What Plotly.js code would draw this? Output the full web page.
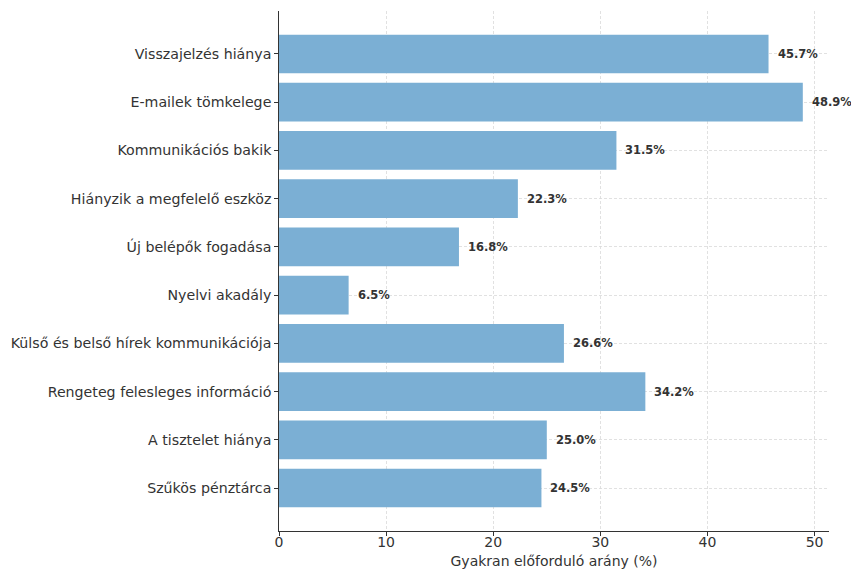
<!DOCTYPE html>
<html>
<head>
<meta charset="utf-8">
<script src="https://cdn.plot.ly/plotly-3.0.1.min.js"></script>
<style>
  html, body { margin: 0; padding: 0; background: #fff; }
  #chart { width: 851px; height: 572px; }
</style>
</head>
<body>
<div id="chart"></div>
<script>
// Problem categories, top to bottom
const categories = [
  "Visszajelzés hiánya",
  "E-mailek tömkelege",
  "Kommunikációs bakik",
  "Hiányzik a megfelelő eszköz",
  "Új belépők fogadása",
  "Nyelvi akadály",
  "Külső és belső hírek kommunikációja",
  "Rengeteg felesleges információ",
  "A tisztelet hiánya",
  "Szűkös pénztárca"
];

// Share of respondents reporting each problem (%)
const shares = [45.7, 48.9, 31.5, 22.3, 16.8, 6.5, 26.6, 34.2, 25.0, 24.5];

const xTickValues = [0, 10, 20, 30, 40, 50];
const xTitle = "Gyakran előforduló arány (%)";

const FONT = "DejaVu Sans, Verdana, sans-serif";
const INK = "#333333";
const GRID = "#dadada";

const trace = {
  type: "bar",
  orientation: "h",
  y: categories,
  x: shares,
  width: 0.8,
  marker: { color: "#7bafd4", line: { width: 0 } },
  hoverinfo: "skip"
};

// Value labels placed just past the end of each bar
const labels = shares.map((v, i) => ({
  x: v,
  y: categories[i],
  xref: "x",
  yref: "y",
  text: v.toFixed(1) + "%",
  showarrow: false,
  xanchor: "left",
  yanchor: "middle",
  xshift: 7,
  font: { family: "DejaVu Sans Bold, DejaVu Sans, sans-serif", size: 11.5, color: INK, weight: 700 }
}));

const layout = {
  width: 851,
  height: 572,
  margin: { l: 279, r: 22, t: 11, b: 41, pad: 0 },
  paper_bgcolor: "#ffffff",
  plot_bgcolor: "#ffffff",
  font: { family: FONT, size: 14, color: INK },
  showlegend: false,
  bargap: 0.2,
  xaxis: {
    range: [0, Math.max(...shares) * 1.05],
    tickvals: xTickValues,
    ticktext: xTickValues.map(String),
    showline: true,
    linecolor: INK,
    linewidth: 1.3,
    ticks: "outside",
    ticklen: 3.5,
    tickwidth: 1,
    tickcolor: INK,
    tickfont: { size: 14, color: INK },
    ticklabelstandoff: -6,
    showgrid: true,
    gridcolor: GRID,
    gridwidth: 0.8,
    griddash: "3px,2px",
    zeroline: false,
    title: { text: xTitle, font: { size: 14, color: INK }, standoff: 7 },
    fixedrange: true
  },
  yaxis: {
    type: "category",
    range: [9.89, -0.89],
    showline: true,
    linecolor: INK,
    linewidth: 1.3,
    ticks: "outside",
    ticklen: 3.5,
    tickwidth: 1,
    tickcolor: INK,
    tickfont: { size: 14.2, color: INK },
    showgrid: true,
    gridcolor: GRID,
    gridwidth: 0.8,
    griddash: "3px,2px",
    zeroline: false,
    fixedrange: true
  },
  annotations: labels
};

Plotly.newPlot("chart", [trace], layout, { displayModeBar: false, staticPlot: true });
</script>
</body>
</html>
